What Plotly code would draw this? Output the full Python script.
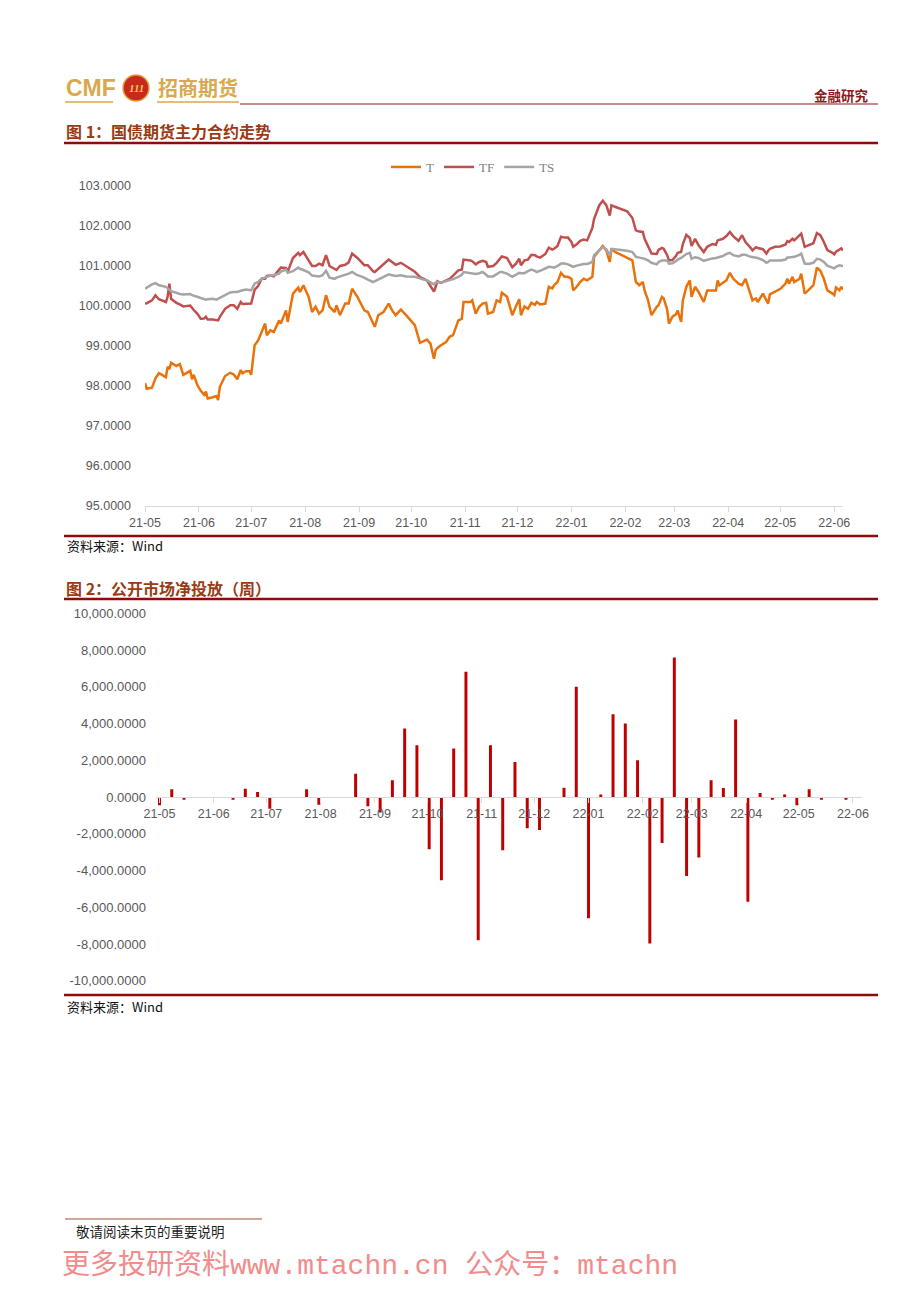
import plotly.graph_objects as go
import pandas as pd

W, H = 920, 1302

# ---------------- Chart 1 data: 国债期货主力合约 ----------------
dates = [
    "2021-05-01","2021-05-02","2021-05-05","2021-05-07","2021-05-09","2021-05-13","2021-05-14","2021-05-15","2021-05-16","2021-05-19","2021-05-21","2021-05-23","2021-05-27","2021-05-28","2021-05-29","2021-05-31",
    "2021-06-02","2021-06-03","2021-06-04","2021-06-05","2021-06-06","2021-06-09","2021-06-11","2021-06-12","2021-06-13","2021-06-16","2021-06-19","2021-06-21","2021-06-23","2021-06-25","2021-06-26","2021-06-28","2021-06-30",
    "2021-07-01","2021-07-03","2021-07-05","2021-07-07","2021-07-09","2021-07-10","2021-07-12","2021-07-14","2021-07-17","2021-07-18","2021-07-21","2021-07-22","2021-07-25","2021-07-28","2021-07-29","2021-07-31",
    "2021-08-03","2021-08-05","2021-08-07","2021-08-09","2021-08-11","2021-08-13","2021-08-15","2021-08-18","2021-08-19","2021-08-21","2021-08-24","2021-08-26","2021-08-28","2021-08-31",
    "2021-09-03","2021-09-04","2021-09-06","2021-09-09","2021-09-10","2021-09-12","2021-09-15","2021-09-18","2021-09-20","2021-09-22","2021-09-25","2021-09-28",
    "2021-10-03","2021-10-06","2021-10-08","2021-10-10","2021-10-12","2021-10-14","2021-10-15","2021-10-16","2021-10-18","2021-10-21","2021-10-23","2021-10-25","2021-10-28","2021-10-30","2021-10-31",
    "2021-11-04","2021-11-05","2021-11-07","2021-11-09","2021-11-11","2021-11-13","2021-11-14","2021-11-17","2021-11-19","2021-11-21","2021-11-22","2021-11-25","2021-11-28","2021-11-30",
    "2021-12-02","2021-12-03","2021-12-05","2021-12-07","2021-12-09","2021-12-11","2021-12-12","2021-12-14","2021-12-17","2021-12-19","2021-12-21","2021-12-22","2021-12-24","2021-12-26","2021-12-28","2021-12-30",
    "2022-01-01","2022-01-02","2022-01-04","2022-01-06","2022-01-08","2022-01-10","2022-01-13","2022-01-14","2022-01-17","2022-01-19","2022-01-21","2022-01-23","2022-01-24","2022-01-26","2022-01-29",
    "2022-02-02","2022-02-05","2022-02-07","2022-02-09","2022-02-11","2022-02-12","2022-02-14","2022-02-16","2022-02-19","2022-02-20","2022-02-22","2022-02-23","2022-02-25","2022-02-26","2022-02-28",
    "2022-03-02","2022-03-03","2022-03-05","2022-03-06","2022-03-08","2022-03-10","2022-03-11","2022-03-13","2022-03-15","2022-03-18","2022-03-20","2022-03-23","2022-03-25","2022-03-26","2022-03-27","2022-03-29","2022-03-31",
    "2022-04-02","2022-04-04","2022-04-07","2022-04-09","2022-04-11","2022-04-14","2022-04-15","2022-04-17","2022-04-18","2022-04-21","2022-04-23","2022-04-24","2022-04-25","2022-04-28",
    "2022-05-01","2022-05-04","2022-05-05","2022-05-06","2022-05-08","2022-05-09","2022-05-12","2022-05-13","2022-05-15","2022-05-17","2022-05-20","2022-05-22","2022-05-24","2022-05-26","2022-05-28","2022-05-31",
    "2022-06-01","2022-06-02","2022-06-04","2022-06-05","2022-06-06",
]

T = [
    98.07, 97.93, 97.96, 98.19, 98.32, 98.22, 98.48, 98.42, 98.58, 98.50, 98.55, 98.28, 98.38, 98.17, 98.28, 98.03,
    97.88, 97.83, 97.78, 97.86, 97.69, 97.72, 97.75, 97.65, 97.98, 98.25, 98.33, 98.29, 98.17, 98.40, 98.32, 98.37, 98.37,
    98.28, 99.02, 99.14, 99.35, 99.56, 99.27, 99.39, 99.35, 99.64, 99.56, 99.89, 99.60, 100.31, 100.46, 100.35, 100.52,
    100.23, 99.85, 99.98, 99.81, 99.89, 100.27, 99.98, 99.85, 100.02, 99.77, 100.06, 100.06, 100.43, 100.23,
    99.98, 99.89, 99.85, 99.60, 99.48, 99.77, 99.85, 100.06, 99.89, 99.77, 99.91, 99.77,
    99.52, 99.08, 99.13, 99.16, 99.06, 98.68, 98.90, 98.95, 99.02, 99.10, 99.23, 99.27, 99.64, 99.68, 100.10,
    100.10, 100.14, 99.81, 99.98, 100.06, 100.08, 99.81, 99.85, 100.14, 100.10, 100.33, 100.23, 99.77, 99.98,
    100.17, 99.77, 99.99, 99.93, 100.08, 100.03, 100.10, 100.04, 100.06, 100.48, 100.44, 100.52, 100.60, 100.83, 100.73, 100.73,
    100.68, 100.39, 100.48, 100.60, 100.68, 100.64, 100.73, 101.23, 101.39, 101.50, 101.39, 101.10, 101.43, 101.35, 101.29,
    101.21, 101.14, 100.60, 100.52, 100.60, 100.39, 100.14, 99.77, 99.98, 100.02, 100.23, 100.19, 99.91, 99.56, 99.73,
    99.79, 99.89, 99.60, 100.14, 100.48, 100.64, 100.23, 100.48, 100.35, 100.10, 100.39, 100.39, 100.39, 100.64, 100.52, 100.58, 100.64,
    100.83, 100.68, 100.56, 100.52, 100.68, 100.23, 100.14, 100.19, 100.10, 100.31, 100.14, 100.06, 100.29, 100.35,
    100.43, 100.56, 100.68, 100.56, 100.73, 100.60, 100.68, 100.81, 100.31, 100.39, 100.52, 100.96, 100.88, 100.68, 100.39, 100.31,
    100.27, 100.46, 100.39, 100.48, 100.41,
]

TF = [
    100.06, 100.07, 100.14, 100.27, 100.17, 100.10, 100.23, 100.56, 100.18, 100.08, 100.04, 99.99, 100.01, 99.95, 99.90, 99.81,
    99.68, 99.68, 99.69, 99.73, 99.66, 99.66, 99.65, 99.64, 99.73, 99.93, 100.02, 100.02, 99.93, 100.10, 100.05, 100.06, 100.06,
    100.06, 100.41, 100.50, 100.68, 100.68, 100.75, 100.76, 100.74, 100.90, 100.96, 100.95, 100.86, 101.20, 101.33, 101.27, 101.35,
    101.14, 101.00, 101.00, 101.06, 101.02, 101.27, 101.00, 100.91, 100.90, 101.00, 101.03, 101.09, 101.31, 101.20,
    101.06, 101.02, 101.02, 100.87, 100.85, 100.93, 101.03, 101.16, 101.10, 101.03, 101.08, 101.00,
    100.86, 100.72, 100.68, 100.64, 100.50, 100.36, 100.48, 100.62, 100.58, 100.64, 100.68, 100.76, 100.89, 100.91, 101.16,
    101.14, 101.12, 101.04, 101.10, 101.13, 101.10, 100.98, 101.00, 101.08, 101.20, 101.24, 101.20, 100.97, 101.05,
    101.18, 101.02, 101.14, 101.16, 101.28, 101.27, 101.24, 101.21, 101.30, 101.46, 101.41, 101.43, 101.50, 101.73, 101.71, 101.71,
    101.60, 101.48, 101.54, 101.63, 101.66, 101.64, 101.95, 102.18, 102.52, 102.63, 102.52, 102.26, 102.52, 102.48, 102.43,
    102.37, 102.20, 101.89, 101.86, 101.85, 101.68, 101.48, 101.31, 101.30, 101.40, 101.45, 101.43, 101.27, 101.14, 101.15,
    101.25, 101.33, 101.35, 101.55, 101.78, 101.70, 101.50, 101.68, 101.52, 101.35, 101.48, 101.55, 101.53, 101.64, 101.66, 101.68, 101.75,
    101.85, 101.74, 101.63, 101.77, 101.60, 101.45, 101.39, 101.47, 101.45, 101.42, 101.31, 101.38, 101.43, 101.48,
    101.49, 101.54, 101.62, 101.60, 101.68, 101.64, 101.76, 101.81, 101.48, 101.51, 101.57, 101.82, 101.77, 101.60, 101.40, 101.33,
    101.29, 101.36, 101.42, 101.44, 101.39,
]

TS = [
    100.43, 100.46, 100.54, 100.57, 100.52, 100.48, 100.44, 100.39, 100.37, 100.33, 100.30, 100.29, 100.30, 100.27, 100.26, 100.23,
    100.20, 100.18, 100.17, 100.16, 100.17, 100.18, 100.16, 100.18, 100.21, 100.28, 100.34, 100.35, 100.35, 100.38, 100.39, 100.41, 100.40,
    100.39, 100.56, 100.60, 100.68, 100.72, 100.74, 100.76, 100.77, 100.81, 100.86, 100.91, 100.83, 100.87, 100.96, 100.93, 100.90,
    100.84, 100.76, 100.75, 100.74, 100.77, 100.88, 100.71, 100.68, 100.71, 100.74, 100.77, 100.81, 100.85, 100.77,
    100.73, 100.70, 100.66, 100.60, 100.62, 100.68, 100.73, 100.79, 100.77, 100.75, 100.77, 100.74,
    100.73, 100.68, 100.66, 100.64, 100.58, 100.54, 100.59, 100.60, 100.58, 100.62, 100.64, 100.67, 100.73, 100.78, 100.85,
    100.83, 100.82, 100.80, 100.82, 100.85, 100.78, 100.74, 100.74, 100.80, 100.85, 100.85, 100.81, 100.73, 100.77,
    100.83, 100.82, 100.82, 100.87, 100.91, 100.88, 100.85, 100.88, 100.94, 100.98, 100.97, 100.96, 101.00, 101.06, 101.06, 101.04,
    101.00, 100.98, 101.01, 101.03, 101.05, 101.05, 101.10, 101.27, 101.40, 101.47, 101.42, 101.26, 101.43, 101.42, 101.41,
    101.38, 101.35, 101.23, 101.21, 101.19, 101.18, 101.14, 101.08, 101.04, 101.10, 101.14, 101.14, 101.14, 101.06, 101.07,
    101.12, 101.16, 101.20, 101.24, 101.30, 101.33, 101.18, 101.22, 101.20, 101.13, 101.16, 101.19, 101.20, 101.21, 101.22, 101.25, 101.30,
    101.33, 101.27, 101.24, 101.28, 101.28, 101.23, 101.22, 101.21, 101.20, 101.15, 101.08, 101.10, 101.14, 101.14,
    101.14, 101.16, 101.21, 101.21, 101.22, 101.23, 101.28, 101.31, 101.06, 101.05, 101.08, 101.18, 101.16, 101.10, 101.01, 100.95,
    100.94, 100.98, 101.02, 101.01, 100.99,
]
assert len(dates) == len(T) == len(TF) == len(TS)

# ---------------- Chart 2 data: 公开市场净投放（周） ----------------
week_start = "2021-05-01"
net_injection = [
    -450, 420, -150, 0, 0, 0, -150, 450, 270, -640,
    0, 0, 420, -420, 0, 0, 1270, -510, -850, 910,
    3730, 2820, -2850, -4530, 2640, 6820, -7800, 2820, -2900, 1910,
    -1700, -1800, 0, 510, 6000, -6600, 130, 4510, 4000, 2000,
    -7980, -2500, 7600, -4300, -3300, 910, 490, 4220, -5700, 220,
    -150, 130, -450, 420, -150, 0, -150,
]
weeks = pd.date_range(week_start, periods=len(net_injection), freq="7D")

y1_ticks = [95, 96, 97, 98, 99, 100, 101, 102, 103]
y2_ticks = [10000, 8000, 6000, 4000, 2000, 0, -2000, -4000, -6000, -8000, -10000]
y2_text = [f"{v:,.4f}" for v in y2_ticks]

# ---------------- helpers (page pixel -> paper fraction; page body has an 8px margin) ----------------
OFF = 8

def px(x):
    return (x - OFF) / W

def py(y):
    return 1 - (y - OFF) / H

COL_T, COL_TF, COL_TS = "#e8730c", "#c0504d", "#a5a5a5"
TICK_COL = "#595959"
GOLD = "#d9a94f"
RULE = "#8e0b0b"
TITLE_COL = "#9c3a14"
CJK = "Noto Sans CJK SC"

fig = go.Figure()
for name, vals, col in [("T", T, COL_T), ("TF", TF, COL_TF), ("TS", TS, COL_TS)]:
    fig.add_trace(go.Scatter(x=dates, y=vals, name=name, mode="lines",
                             line=dict(color=col, width=2.5), xaxis="x", yaxis="y"))

fig.add_trace(go.Bar(x=weeks, y=net_injection, marker_color="#c00000",
                     marker_line_width=0, width=1.7 * 86400000,
                     xaxis="x2", yaxis="y2", showlegend=False))

axfont = dict(family="Liberation Sans", size=12.5, color=TICK_COL)

fig.update_layout(
    template="none",
    width=W, height=H, autosize=False,
    margin=dict(l=0, r=0, t=0, b=0, pad=0, autoexpand=False),
    paper_bgcolor="white", plot_bgcolor="white",
    showlegend=True,
    legend=dict(orientation="h", x=px(473), xanchor="center", y=py(167), yanchor="middle",
                font=dict(family="Liberation Serif", size=13, color="#7f7f7f"),
                bgcolor="rgba(0,0,0,0)", itemwidth=30, tracegroupgap=0),
    xaxis=dict(domain=[px(145), px(843)], type="date", automargin=False,
               range=["2021-05-01", "2022-06-06"], anchor="y",
               tickformat="%y-%m", dtick="M1", tick0="2021-05-01",
               ticks="outside", ticklen=5, tickcolor="#d9d9d9",
               showline=True, linecolor="#d9d9d9", linewidth=1,
               showgrid=False, zeroline=False, tickfont=axfont),
    yaxis=dict(domain=[py(506), py(186)], range=[95, 103], anchor="x", automargin=False,
               tickvals=y1_ticks, tickformat=".4f",
               showgrid=False, zeroline=False, showline=False,
               ticks="", ticklabelstandoff=13, tickfont=axfont),
    xaxis2=dict(domain=[px(156), px(861.7)], type="date", automargin=False,
                range=["2021-04-29", "2022-06-06"], anchor="free", position=py(796.7),
                tickformat="%y-%m", dtick="M1", tick0="2021-05-01",
                ticks="outside", ticklen=5, tickcolor="#d9d9d9",
                showline=True, linecolor="#d9d9d9", linewidth=1,
                showgrid=False, zeroline=False, tickfont=axfont),
    yaxis2=dict(domain=[py(980.7), py(613.3)], range=[-10000, 10000], anchor="x2", automargin=False,
                tickvals=y2_ticks, ticktext=y2_text,
                showgrid=False, zeroline=False, showline=False,
                ticks="", ticklabelstandoff=9, tickfont=dict(family="Liberation Sans", size=13, color=TICK_COL)),
)

shapes = []
def hline(x0, x1, y, color, w):
    shapes.append(dict(type="line", xref="paper", yref="paper",
                       x0=px(x0), x1=px(x1), y0=py(y), y1=py(y),
                       line=dict(color=color, width=w)))

# header
hline(65, 113, 102, GOLD, 1.5)
hline(157, 239, 102, GOLD, 1.5)
hline(240, 878, 104, "#8e1b1b", 1.2)
shapes.append(dict(type="circle", xref="paper", yref="paper",
                   x0=px(123), x1=px(149), y0=py(101), y1=py(75),
                   fillcolor="#c62a1d", line=dict(color="#e3a13b", width=1.5)))
# section rules
hline(64, 878, 143, RULE, 2.5)
hline(64, 878, 536, RULE, 2.5)
hline(64, 878, 599, RULE, 2.5)
hline(64, 878, 995, RULE, 2.5)
# footer rule
hline(65, 262, 1219, "#a0522d", 1)
fig.update_layout(shapes=shapes)

annos = []
def text(x, y, s, size, color, family=CJK, anchor="left", bold=False):
    annos.append(dict(xref="paper", yref="paper", x=px(x), y=py(y), text=s,
                      showarrow=False, xanchor=anchor, yanchor="middle",
                      font=dict(family=family, size=size, color=color,
                                weight="bold" if bold else "normal")))

text(64, 88, "CMF", 23, GOLD, family="Liberation Sans", bold=True)
text(136, 88, "<i>111</i>", 11, "#f3c35a", family="Liberation Serif", anchor="center", bold=True)
text(156, 88, "招商期货", 20, GOLD, bold=True)
text(871, 95, "金融研究", 13.5, "#8b1a1a", anchor="right", bold=True)

text(64, 131, "图 1：国债期货主力合约走势", 16, TITLE_COL, bold=True)
text(65, 546, "资料来源：Wind", 13, "#111111")
text(64, 588, "图 2：公开市场净投放（周）", 16, TITLE_COL, bold=True)
text(65, 1006, "资料来源：Wind", 13, "#111111")
text(74, 1231, "敬请阅读末页的重要说明", 13.5, "#222222")
text(60, 1265, "更多投研资料www.mtachn.cn 公众号：mtachn", 28, "#f28b8b",
     family="Liberation Mono, Noto Sans CJK SC")
fig.update_layout(annotations=annos)

fig.write_html("out.html")
